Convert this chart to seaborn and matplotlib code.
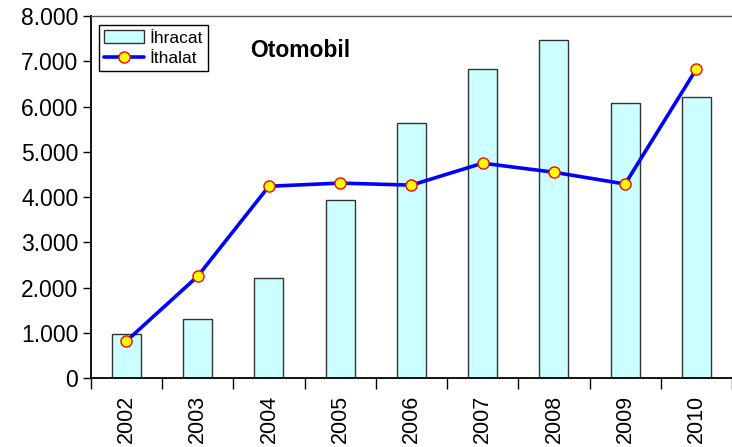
import matplotlib
matplotlib.use("Agg")
import matplotlib.pyplot as plt
import pandas as pd
import seaborn as sns
from matplotlib.ticker import FuncFormatter, FixedLocator

# values
years = ["2002", "2003", "2004", "2005", "2006", "2007", "2008", "2009", "2010"]
ihracat = [970, 1300, 2210, 3930, 5640, 6830, 7470, 6080, 6210]
ithalat = [820, 2250, 4240, 4310, 4265, 4750, 4550, 4290, 6830]

df = pd.DataFrame({"Yil": years, "İhracat": ihracat, "İthalat": ithalat})

sns.set_style("white")
plt.rcParams["font.family"] = ["Liberation Sans", "DejaVu Sans"]
plt.rcParams["text.color"] = "black"
plt.rcParams["xtick.color"] = "black"
plt.rcParams["ytick.color"] = "black"

fig = plt.figure(figsize=(7.32, 4.47), dpi=100)
ax = fig.add_axes([0.124, 0.154, 0.876, 0.81])

sns.barplot(data=df, x="Yil", y="İhracat", color="#CCFFFF", saturation=1,
            edgecolor="#333333", linewidth=1, width=0.41, label="İhracat", ax=ax)
sns.pointplot(data=df, x="Yil", y="İthalat", color="#0000FF", markers="o",
              linewidth=2.6, markersize=8, label="İthalat", ax=ax)

# yellow markers with red edge
for ln in ax.lines:
    ln.set_markerfacecolor("#FFFF00")
    ln.set_markeredgecolor("#FF0000")
    ln.set_markeredgewidth(1.0)
    ln.set_zorder(5)

ax.set_ylim(0, 8000)
ax.set_xlim(-0.5, 8.5)
ax.set_yticks(range(0, 8001, 1000))
ax.yaxis.set_major_formatter(FuncFormatter(lambda v, p: f"{int(v):,}".replace(",", ".")))
ax.set_xlabel("")
ax.set_ylabel("")

ax.tick_params(axis="y", labelsize=16.5, length=6, width=1, color="black",
               labelcolor="black", direction="out", left=True, pad=3)
ax.tick_params(axis="x", which="major", labelsize=15.5, length=0, rotation=90,
               labelcolor="black", pad=12)
ax.xaxis.set_minor_locator(FixedLocator([i - 0.5 for i in range(len(years) + 1)]))
ax.tick_params(axis="x", which="minor", length=8, width=1, color="black", direction="out", bottom=True)

for s in ["left", "bottom"]:
    ax.spines[s].set_color("black")
    ax.spines[s].set_linewidth(1.3)
ax.spines["top"].set_color("#555555")
ax.spines["top"].set_linewidth(1)
ax.spines["right"].set_visible(False)

ax.text(0.249, 0.905, "Otomobil", transform=ax.transAxes, fontsize=16.5,
        fontweight="bold", ha="left", va="center", color="black")

handles, labels = ax.get_legend_handles_labels()
order = [labels.index("İhracat"), labels.index("İthalat")]
leg = ax.legend([handles[i] for i in order], [labels[i] for i in order],
                loc="upper left", bbox_to_anchor=(0.013, 0.975), fontsize=12.5,
                fancybox=False, edgecolor="black", framealpha=1,
                handlelength=2.3, borderpad=0.3, labelspacing=0.3, handletextpad=0.3,
                borderaxespad=0)
leg.get_frame().set_linewidth(1)

fig.savefig("out.png", dpi=100)
